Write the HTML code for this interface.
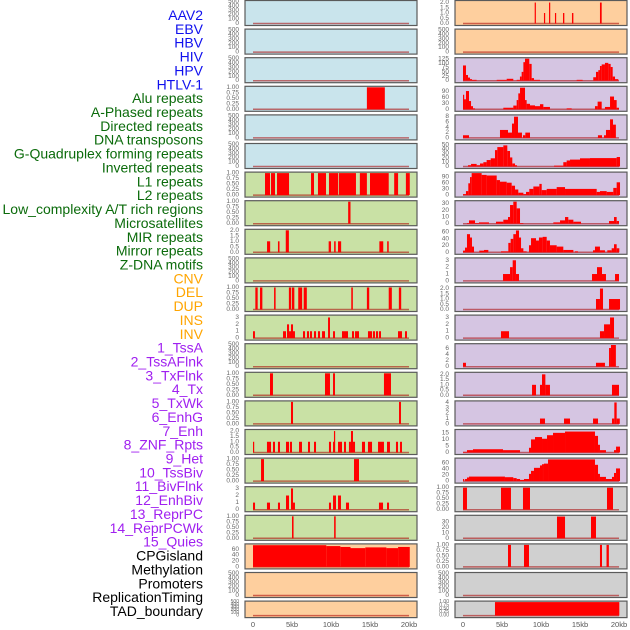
<!DOCTYPE html>
<html><head><meta charset="utf-8">
<style>
html,body{margin:0;padding:0;background:#fff;width:630px;height:630px;overflow:hidden}
svg{display:block;font-family:"Liberation Sans",sans-serif}
</style></head>
<body>
<svg id="chart" width="630" height="630" viewBox="0 0 630 630"></svg>
<script>
// ---- data (segments: [startKb, endKb, value]) ----
const labelNames = ["AAV2","EBV","HBV","HIV","HPV","HTLV-1","Alu repeats","A-Phased repeats","Directed repeats","DNA transposons","G-Quadruplex forming repeats","Inverted repeats","L1 repeats","L2 repeats","Low_complexity A/T rich regions","Microsatellites","MIR repeats","Mirror repeats","Z-DNA motifs","CNV","DEL","DUP","INS","INV","1_TssA","2_TssAFlnk","3_TxFlnk","4_Tx","5_TxWk","6_EnhG","7_Enh","8_ZNF_Rpts","9_Het","10_TssBiv","11_BivFlnk","12_EnhBiv","13_ReprPC","14_ReprPCWk","15_Quies","CPGisland","Methylation","Promoters","ReplicationTiming","TAD_boundary"];
const labelGroups = [6,13,5,15,5];
const xTickKb = [0,5,10,15,20];
const xTickLabels = ["0","5kb","10kb","15kb","20kb"];

const tEmpty = ["0","100","200","300","400","500"];
const tUnit = ["0.00","0.25","0.50","0.75","1.00"];
const tTwo = ["0.0","0.5","1.0","1.5","2.0"];
const tThree = ["0","1","2","3"];

const L4 = [[14.6,16.9,1]];
const L7 = [[1.54,2.18,1],[2.31,2.82,1],[3.08,4.62,1],[7.44,7.82,1],[8.33,9.36,1],[9.74,10.9,1],[11.0,13.2,1],[13.7,14.6,1],[15.0,17.4,1],[18.1,18.6,1],[19.6,20.1,1]];
const L8 = [[12.2,12.5,1]];
const L9 = [[1.8,2.2,1],[3.2,3.4,1],[4.2,4.6,2],[9.7,10,1],[10.4,10.6,1],[10.9,11.3,1],[16.2,16.7,1],[17.2,17.4,1]];
const L11 = [[0.3,0.6,1],[0.9,1.2,1],[2.7,2.9,1],[4.6,4.9,1],[5.0,5.3,1],[5.8,6.3,1],[6.5,6.9,1],[12.6,12.8,1],[14.6,14.9,1],[17.4,17.8,1],[18.7,19.0,1]];
const L12 = [[0,0.25,1],[3.85,4.23,1],[4.36,4.62,2],[4.62,4.87,1],[4.87,5.13,2],[5.13,5.38,1],[6.41,6.67,1],[6.92,7.18,1],[7.31,7.56,1],[7.82,8.08,1],[8.33,8.59,1],[8.85,9.23,1],[9.62,9.87,3],[10.26,10.51,1],[11.41,12.18,1],[12.69,12.95,1],[13.08,13.59,1],[14.74,15.26,1],[15.38,15.64,1],[15.77,16.03,1],[16.15,16.41,1],[18.59,19.1,1],[19.49,19.74,1]];
const L14 = [[2.18,2.56,1],[9.23,9.87,1],[10.26,10.51,1],[16.79,17.69,1]];
const L15 = [[4.87,5.13,1],[18.72,18.97,1]];
const L16 = [[0,0.13,1],[1.79,2.31,1],[2.56,2.82,1],[3.2,3.46,1],[4.23,4.62,1],[4.74,5.0,1],[5.9,6.28,1],[7.05,7.31,1],[7.82,8.08,1],[9.74,10,1],[10.26,10.38,1],[10.38,10.51,2],[10.9,11.41,1],[11.67,11.92,1],[12.3,12.56,1],[12.56,12.82,2],[12.82,13.08,1],[13.97,14.36,1],[14.74,15.26,1],[16.03,16.79,1],[17.18,17.56,1],[18.33,18.59,1],[18.85,19.1,1]];
const L17 = [[1.03,1.41,1],[12.95,13.59,1]];
const L18 = [[0,0.26,1],[1.79,2.18,1],[3.2,3.46,1],[4.23,4.62,2],[4.87,5.13,3],[5.13,5.38,1],[9.74,10,1],[10.26,10.64,2],[10.9,11.28,2],[11.92,12.31,1],[16.15,16.67,1],[17.18,17.44,1]];
const L19 = [[5.0,5.2,1],[10.4,10.6,1]];
const L20 = [[0,9.4,74],[9.4,11.2,71],[11.2,12.5,68],[12.5,14.4,64],[14.4,17.1,66.5],[17.1,18.6,64],[18.6,20.1,68]];

const R1 = [[9.19,9.32,2],[10.38,10.5,1],[11.03,11.15,2],[11.79,11.92,1],[12.82,12.99,1],[13.97,14.15,1],[17.56,17.78,2]];
const R3 = [[0,0.38,88],[0.38,0.64,33],[0.64,0.9,18],[0.9,1.15,9],[1.15,1.75,5],[4.32,5.6,5],[5.6,6.45,11],[6.88,7.3,5],[7.3,7.52,24],[7.52,7.74,51],[7.74,7.95,107],[7.95,8.5,127],[8.5,8.8,97],[8.8,9.1,15],[9.1,9.87,5],[14.57,15.34,5],[16.7,17.05,20],[17.05,17.35,51],[17.35,17.56,61],[17.56,17.78,85],[17.78,18.2,94],[18.2,18.63,103],[18.63,18.93,97],[18.93,19.19,79],[19.19,19.49,24],[19.49,19.91,9]];
const R4 = [[0,0.13,74],[0.13,0.38,51],[0.38,0.77,93],[0.77,1.03,42],[1.03,1.28,16],[1.28,1.54,5],[5.17,6.45,8],[6.45,6.88,19],[6.88,7.09,47],[7.09,7.31,81],[7.31,7.95,110],[7.95,8.16,47],[8.16,8.59,28],[8.59,9.23,20],[9.23,9.87,16],[9.87,10.3,26],[10.3,11.15,12],[13.29,13.93,5],[16.92,17.26,16],[17.26,17.78,39],[17.78,18.2,3],[18.2,18.85,12],[18.85,19.36,65],[19.36,19.7,47],[19.7,20,8]];
const R5 = [[0,0.77,1],[4.74,5.77,3],[5.77,6.28,2],[6.28,6.54,5.4],[6.54,7.05,8],[7.05,7.56,2],[7.69,7.99,1],[7.99,8.59,2],[17.3,17.82,1],[18.08,18.33,1],[18.33,18.85,3],[18.85,19.23,7],[19.23,19.6,5]];
const R6 = [[0.64,1.03,3],[1.03,1.75,6],[1.75,2.18,3],[2.18,2.61,7],[2.61,3.03,10],[3.03,3.55,15],[3.55,4.1,19],[4.1,4.4,38],[4.4,5.17,45],[5.17,5.68,49],[5.68,6.03,36],[6.03,6.32,21],[6.32,6.67,7],[6.67,6.92,3],[11.67,12.86,2],[12.86,13.29,10],[13.29,13.72,14],[13.72,15,16],[15,16.28,19],[16.28,19.7,19.5],[19.7,20.13,22]];
const R7 = [[0,0.38,5],[0.38,0.68,20],[0.68,0.9,59],[0.9,1.11,90],[1.11,2.39,110],[2.39,3.03,101],[3.03,4.32,98],[4.32,4.74,75],[4.74,5.6,67],[5.6,6.24,62],[6.24,6.67,47],[6.67,7.09,28],[7.09,7.74,12],[7.74,8.08,5],[8.08,8.5,16],[8.5,9.02,31],[9.02,9.79,43],[9.79,10.09,56],[10.09,10.73,25],[10.73,12.01,31],[12.01,13.08,40],[13.08,17.14,31],[17.14,17.56,16],[17.56,18.42,20],[18.42,19.27,16],[19.27,19.7,36],[19.7,20.13,64]];
const R8 = [[0.51,0.77,1],[0.77,1.54,5],[1.54,2.05,1],[2.05,3.33,2],[4.23,5.17,3],[5.17,5.77,6],[5.77,6.03,10],[6.03,6.45,28],[6.45,6.88,34],[6.88,7.31,23],[7.31,7.74,1],[11.58,12.44,2],[12.44,13.08,5],[13.08,13.5,10],[13.5,14.15,6],[14.15,15.13,3],[18.72,19.36,4],[19.36,19.7,10],[19.7,20,4]];
const R9 = [[0,0.26,5],[0.26,0.51,14],[0.51,0.9,54],[0.9,1.15,44],[1.15,1.41,17],[2.09,2.69,5],[2.69,3.25,7],[4.87,5.81,3],[5.81,6.11,28],[6.11,6.45,40],[6.45,6.79,54],[6.79,7.18,65],[7.18,7.44,44],[7.44,7.74,12],[7.74,8.16,3],[8.46,8.72,21],[8.72,9.36,42],[9.36,9.74,35],[9.74,10.21,44],[10.21,10.73,46],[10.73,11.15,35],[11.15,12.01,21],[12.01,12.86,17],[12.86,14.15,7],[14.36,14.74,3],[16.67,16.92,6],[16.92,17.56,17],[17.56,18.2,6],[18.5,19.06,6],[19.06,19.36,12],[19.36,19.7,24],[19.7,20.04,12]];
const R10 = [[5.13,6.03,1],[6.03,6.37,2],[6.37,6.79,3],[6.79,7.18,1],[16.54,17.18,1],[17.18,17.82,2],[17.82,18.33,1],[19.49,20,1]];
const R11 = [[17.05,17.56,1],[17.56,17.95,2],[18.72,20.13,1]];
const R12 = [[4.87,5.9,1],[17.56,18.08,1],[18.08,18.85,2],[18.85,19.36,3]];
const R13 = [[0,0.38,1.3],[17.05,18.2,1.3],[18.72,18.97,6.2],[18.97,19.6,7.2]];
const R14 = [[8.85,9.36,1],[9.87,10.13,1],[10.13,10.56,2],[10.56,11.15,1],[19.1,20,1]];
const R15 = [[9.87,10.51,1],[12.95,13.72,1],[16.67,17.31,1],[19.1,19.4,1],[19.4,19.7,4],[19.7,20.1,1]];
const R16 = [[0,0.51,0.5],[0.51,1.28,1.8],[1.28,5.13,2.5],[5.13,7.31,1.8],[8.46,8.72,3.6],[8.72,9.23,10],[9.23,10.13,11.8],[10.13,10.77,10.5],[10.77,11.54,13.2],[11.54,13.08,15],[13.08,16.92,16],[16.92,17.31,12.7],[17.31,17.56,5.9],[17.56,18.33,1.8],[19.36,19.62,1.8],[19.62,20.13,4.5]];
const R17 = [[0,0.13,7],[0.26,0.51,7],[0.51,0.77,12],[0.77,5.38,15],[5.38,6.45,13],[6.45,6.88,10],[6.88,7.31,7],[7.31,7.82,4],[7.82,8.46,7],[8.46,8.72,24],[8.72,9.1,34],[9.1,9.87,44],[9.87,10.13,52],[10.13,10.38,56],[10.38,10.9,58],[10.9,16.92,72],[16.92,17.31,54],[17.31,17.56,24],[17.56,18.33,14],[18.33,19.1,7],[19.1,19.36,14],[19.36,19.62,27],[19.62,20.13,42]];
const R18 = [[0,0.51,1],[4.87,6.15,1],[7.69,8.59,1],[18.46,19.23,1]];
const R19 = [[12.05,13.08,40],[16.41,17.05,40]];
const R20 = [[5.77,6.15,1],[7.82,8.46,1],[17.56,17.82,1],[18.4,18.7,1]];
const R22 = [[4.1,20.04,1]];

const BLUE="#c9e4ec", GREEN="#c9e1a5", ORANGE="#fecf9e", LAV="#d5c5e2", GRAY="#d0d0d0";
// [bg, ymax, ticks, data]
const leftPanels = [
 [BLUE,500,tEmpty,[]],[BLUE,500,tEmpty,[]],[BLUE,500,tEmpty,[]],[BLUE,1,tUnit,L4],[BLUE,500,tEmpty,[]],[BLUE,500,tEmpty,[]],
 [GREEN,1,tUnit,L7],[GREEN,1,tUnit,L8],[GREEN,2,tTwo,L9],[GREEN,500,tEmpty,[]],[GREEN,1,tUnit,L11],[GREEN,3.2,tThree,L12],
 [GREEN,500,tEmpty,[]],[GREEN,1,tUnit,L14],[GREEN,1,tUnit,L15],[GREEN,2.05,tTwo,L16],[GREEN,1,tUnit,L17],[GREEN,3.1,tThree,L18],[GREEN,1,tUnit,L19],
 [ORANGE,75,["0","20","40","60"],L20],[ORANGE,500,tEmpty,[]],[ORANGE,500,tEmpty,[]]
];
const rightPanels = [
 [ORANGE,2.1,tTwo,R1],[ORANGE,500,tEmpty,[]],
 [LAV,127,["0","25","50","75","100","125"],R3],[LAV,112,["0","30","60","90"],R4],[LAV,8.3,["0","2","4","6","8"],R5],
 [LAV,51,["0","10","20","30","40","50"],R6],[LAV,110,["0","30","60","90"],R7],[LAV,33,["0","10","20","30"],R8],
 [LAV,65.5,["0","20","40","60"],R9],[LAV,3.2,tThree,R10],[LAV,2.1,tTwo,R11],[LAV,3.2,tThree,R12],
 [LAV,7.3,["0","2","4","6"],R13],[LAV,2.1,tTwo,R14],[LAV,4.1,["0","1","2","3","4"],R15],
 [LAV,16.8,["0","5","10","15"],R16],[LAV,73,["0","20","40","60"],R17],
 [GRAY,1,tUnit,R18],[GRAY,40.5,["0","10","20","30"],R19],[GRAY,1,tUnit,R20],[GRAY,500,tEmpty,[]],[GRAY,1,tUnit,R22]
];

const NS="http://www.w3.org/2000/svg";
const svg=document.getElementById('chart');
function mk(tag,attrs,parent){const e=document.createElementNS(NS,tag);for(const k in attrs)e.setAttribute(k,attrs[k]);(parent||svg).appendChild(e);return e;}

// labels
const groupColors=["#1010ee","#0b6b0b","#ffa500","#a020f0","#000000"];
let gi=0,cnt=0;
labelNames.forEach((name,i)=>{
  while(cnt>=labelGroups[gi]){cnt-=labelGroups[gi];gi++;}
  const t=mk('text',{x:203,y:15+i*13.86,'text-anchor':'end','dominant-baseline':'central','font-size':14,fill:groupColors[gi]});
  t.textContent=name;
  
  
  cnt++;
});

function drawPanel(p,row,col,x0){
  const [bg,ymax,ticks,data]=p;
  const top=row*28.6, last=(row===21), h=last?16.5:25;
  const g=mk('g',{});
  
  
  mk('rect',{x:x0,y:top+0.5,width:172,height:h,fill:bg,stroke:'#5a5a5a','stroke-width':1.2},g);
  const y0=top+(last?15:23.5), y1=top+1.5;
  const yS=v=>y0-(v/ymax)*(y0-y1);
  const xS=kb=>x0+8+kb*7.8;
  ticks.forEach(tl=>{
    const tx=mk('text',{x:x0-6,y:yS(parseFloat(tl)),'text-anchor':'end','dominant-baseline':'central','font-size':last?5:6.5,fill:'#666'},g);
    tx.textContent=tl;
    
    
  });
  mk('line',{x1:xS(0),x2:xS(20),y1:y0,y2:y0,stroke:'rgba(170,0,0,0.55)','stroke-width':1.5},g);
  data.forEach(d=>{
    const v=Math.min(d[2],ymax);
    const r=mk('rect',{x:xS(d[0]),y:yS(v),width:Math.max(xS(d[1])-xS(d[0]),1.2),height:y0-yS(v),fill:'#ff0000'},g);
    
    
  });
}
leftPanels.forEach((p,i)=>drawPanel(p,i,'left',245));
rightPanels.forEach((p,i)=>drawPanel(p,i,'right',455));

[245,455].forEach(x0=>{
  xTickKb.forEach((kb,i)=>{
    const t=mk('text',{x:x0+8+kb*7.8,y:627,'text-anchor':'middle','font-size':7.5,fill:'#555'});
    t.textContent=xTickLabels[i];
    
    
  });
});
</script>
</body></html>
